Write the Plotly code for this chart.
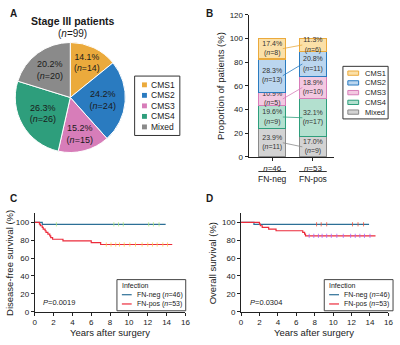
import plotly.graph_objects as go

W, H = 400, 345
def px(x): return x / W
def py(y): return 1 - y / H

FONT = "Liberation Sans, Arial, sans-serif"
TXT = "#1a1a1a"

# ---------------- data ----------------
cms_labels = ["CMS1", "CMS2", "CMS3", "CMS4", "Mixed"]
pie_counts = [14, 24, 15, 26, 20]
pie_pct = [14.1, 24.2, 15.2, 26.3, 20.2]
total_n = 99

solid_colors = ["#EBAA3C", "#2A7BC0", "#D77DB9", "#2E9E7C", "#8A8A8A"]
light_colors = ["#FBE0A8", "#BBD6EF", "#F3C9E1", "#B3E0CF", "#D3D3D3"]

groups = ["FN-neg", "FN-pos"]
group_n = [46, 53]
bar_pct_cms1 = [17.4, 11.3]
bar_pct_cms2 = [28.3, 20.8]
bar_pct_cms3 = [10.9, 18.9]
bar_pct_cms4 = [19.6, 32.1]
bar_pct_mixed = [23.9, 17.0]
bar_n_cms1 = [8, 6]
bar_n_cms2 = [13, 11]
bar_n_cms3 = [5, 10]
bar_n_cms4 = [9, 17]
bar_n_mixed = [11, 9]

dfs_neg_t = [0, 0.8, 13.9]
dfs_neg_s = [100, 97.8, 97.8]
dfs_pos_t = [0, 0.5, 0.6, 0.8, 0.9, 1.1, 1.2, 1.4, 1.6, 1.7, 1.9, 3.0, 6.0, 7.0, 14.6]
dfs_pos_s = [100, 98.1, 96.2, 94.3, 92.5, 90.6, 88.7, 86.8, 84.9, 83.0, 81.1, 79.2, 77.2, 75.2, 75.2]
dfs_neg_cens = [2.3, 8.4, 8.9, 9.4, 12.1, 12.6, 13.2]
dfs_pos_cens = [7.6, 8.1, 8.6, 9.0, 9.5, 10.1, 10.7, 11.4, 12.0, 12.5, 13.0, 13.6, 14.1]

os_neg_t = [0, 1.4, 13.9]
os_neg_s = [100, 97.8, 97.8]
os_pos_t = [0, 2.0, 2.1, 2.3, 3.0, 3.8, 6.7, 6.9, 7.0, 14.6]
os_pos_s = [100, 98.1, 96.2, 94.3, 92.5, 90.6, 88.7, 86.8, 84.9, 84.9]
os_neg_cens = [8.2, 8.7, 9.3, 12.1, 12.7, 13.3]
os_pos_cens = [7.4, 7.9, 8.4, 8.8, 9.3, 9.8, 10.4, 11.1, 11.9, 12.4, 12.9, 13.4, 14.0]

p_dfs = "0.0019"
p_os = "0.0304"
NEG_COLOR = "#2C6F96"
POS_COLOR = "#EC2B3B"

fig = go.Figure()

# ---------------- Panel A: pie ----------------
fig.add_trace(go.Pie(
    labels=cms_labels, values=pie_counts, customdata=pie_pct,
    sort=False, direction="clockwise", rotation=0,
    marker=dict(colors=solid_colors, line=dict(color="white", width=1)),
    texttemplate="%{customdata:.1f}%<br>(<i>n</i>=%{value})",
    textposition="inside", insidetextorientation="horizontal",
    textfont=dict(size=9, color=TXT, family=FONT),
    insidetextfont=dict(size=9, color=TXT, family=FONT),
    domain=dict(x=[px(13), px(126)], y=[py(152.5), py(39.5)]),
    showlegend=False, hoverinfo="label+value",
))

# ---------------- Panel B: stacked bars ----------------
stack = [("Mixed", bar_pct_mixed, bar_n_mixed, 4),
         ("CMS4", bar_pct_cms4, bar_n_cms4, 3),
         ("CMS3", bar_pct_cms3, bar_n_cms3, 2),
         ("CMS2", bar_pct_cms2, bar_n_cms2, 1),
         ("CMS1", bar_pct_cms1, bar_n_cms1, 0)]
xpos = list(range(len(groups)))
cum = [0.0] * len(groups)
mids = {}
for name, pct, ns, ci in stack:
    fig.add_trace(go.Bar(
        x=xpos, y=pct, name=name, width=0.67,
        marker=dict(color=light_colors[ci], line=dict(color=solid_colors[ci], width=1.2)),
        text=[f"{p:.1f}%<br>(<i>n</i>={n})" for p, n in zip(pct, ns)],
        textposition="inside", insidetextanchor="middle", constraintext="none",
        textangle=0, textfont=dict(size=7, color="#333333", family=FONT),
        xaxis="x2", yaxis="y2", showlegend=False,
    ))
    mids[name] = [c + p / 2 for c, p in zip(cum, pct)]
    cum = [c + p for c, p in zip(cum, pct)]

shapes = []
for name, pct, ns, ci in stack:
    m = mids[name]
    shapes.append(dict(type="line", xref="x2", yref="y2", x0=0.26, x1=0.74,
                       y0=m[0], y1=m[1], line=dict(color=solid_colors[ci], width=0.8)))
for i, g in enumerate(groups):
    shapes.append(dict(type="line", xref="x2", yref="paper", x0=i - 0.34, x1=i + 0.34,
                       y0=py(172), y1=py(172), line=dict(color="#333", width=1)))

# ---------------- Panels C & D: KM ----------------
def step_at(ts, ss, t):
    v = ss[0]
    for tt, s in zip(ts, ss):
        if tt <= t:
            v = s
    return v

def km(ts, ss, cens, color, xa, ya):
    fig.add_trace(go.Scatter(x=ts, y=ss, mode="lines", line=dict(color=color, width=1.2, shape="hv"),
                             xaxis=xa, yaxis=ya, showlegend=False))
    fig.add_trace(go.Scatter(x=cens, y=[step_at(ts, ss, c) for c in cens], mode="markers",
                             marker=dict(symbol="line-ns-open", size=3, line=dict(color=color, width=0.8)),
                             xaxis=xa, yaxis=ya, showlegend=False))

km(dfs_neg_t, dfs_neg_s, dfs_neg_cens, NEG_COLOR, "x3", "y3")
km(dfs_pos_t, dfs_pos_s, dfs_pos_cens, POS_COLOR, "x3", "y3")
km(os_neg_t, os_neg_s, os_neg_cens, NEG_COLOR, "x4", "y4")
km(os_pos_t, os_pos_s, os_pos_cens, POS_COLOR, "x4", "y4")

# ---------------- layout / axes ----------------
ax = dict(showline=True, linecolor="#222", linewidth=1, ticks="outside", ticklen=3, tickwidth=1,
          tickcolor="#222", showgrid=False, zeroline=False,
          tickfont=dict(size=8, color=TXT, family=FONT))

layout = dict(
    width=W, height=H, margin=dict(l=0, r=0, t=0, b=0),
    paper_bgcolor="white", plot_bgcolor="white", barmode="stack",
    font=dict(family=FONT, color=TXT),
    xaxis2=dict(ax, domain=[px(251), px(338)], range=[-0.58, 1.52], anchor="y2",
                tickvals=xpos, ticktext=[f"<i>n</i>={n}" for n in group_n]),
    yaxis2=dict(ax, domain=[py(157), py(11)], range=[0, 120], anchor="x2",
                tickvals=[0, 20, 40, 60, 80, 100, 120]),
    xaxis3=dict(ax, domain=[px(33.3), px(186.7)], range=[0, 16], anchor="y3",
                tickvals=list(range(0, 17, 2))),
    yaxis3=dict(ax, domain=[py(316), py(215)], range=[0, 110], anchor="x3",
                tickvals=[0, 20, 40, 60, 80, 100]),
    xaxis4=dict(ax, domain=[px(243.3), px(393.3)], range=[0, 16], anchor="y4",
                tickvals=list(range(0, 17, 2))),
    yaxis4=dict(ax, domain=[py(316), py(215)], range=[0, 110], anchor="x4",
                tickvals=[0, 20, 40, 60, 80, 100]),
)

ann = []
def txt(x, y, s, size=8, bold=False, anchor="center", angle=0, color=TXT):
    ann.append(dict(x=px(x), y=py(y), xref="paper", yref="paper", text=(f"<b>{s}</b>" if bold else s),
                    showarrow=False, xanchor=anchor, yanchor="middle", textangle=angle,
                    font=dict(size=size, color=color, family=FONT)))

# panel letters
txt(6, 10, "A", 10, True, "left")
txt(206, 10, "B", 10, True, "left")
txt(6, 200, "C", 10, True, "left")
txt(206, 200, "D", 10, True, "left")

# A titles
txt(72, 17, "Stage III patients", 10.5, True)
txt(72, 30, f"(<i>n</i>={total_n})", 10)

# A legend (manual)
shapes.append(dict(type="rect", xref="paper", yref="paper", x0=px(135), x1=px(181), y0=py(135), y1=py(74),
                   line=dict(color="#333", width=1), fillcolor="white"))
for i, lab in enumerate(cms_labels):
    yy = 83 + i * 10.8
    shapes.append(dict(type="rect", xref="paper", yref="paper", x0=px(142.5), x1=px(147.5),
                       y0=py(yy + 2.5), y1=py(yy - 2.5), line=dict(width=0), fillcolor=solid_colors[i]))
    txt(150, yy, lab, 8.5, anchor="left")

# B legend (manual)
shapes.append(dict(type="rect", xref="paper", yref="paper", x0=px(347), x1=px(393), y0=py(118), y1=py(64),
                   line=dict(color="#333", width=1), fillcolor="white"))
for i, lab in enumerate(cms_labels):
    yy = 71 + i * 10
    shapes.append(dict(type="rect", xref="paper", yref="paper", x0=px(352), x1=px(363),
                       y0=py(yy + 2.2), y1=py(yy - 2.2), line=dict(color=solid_colors[i], width=1),
                       fillcolor=light_colors[i]))
    txt(367, yy, lab, 7.5, anchor="left")

# B axis labels
txt(223, 84, "Proportion of patients (%)", 9.5, angle=-90)
for i, g in enumerate(groups):
    ann.append(dict(x=i, y=py(180), xref="x2", yref="paper", text=g, showarrow=False,
                    xanchor="center", yanchor="middle", font=dict(size=8.5, color=TXT, family=FONT)))

# C / D labels
txt(7, 266, "Disease-free survival (%)", 9.5, angle=-90)
txt(214, 266, "Overall survival (%)", 9.5, angle=-90)
txt(110, 337, "Years after surgery", 9.5)
txt(318, 337, "Years after surgery", 9.5)
txt(40, 307, f"<i>P</i>={p_dfs}", 7.5, anchor="left")
txt(250, 307, f"<i>P</i>={p_os}", 7.5, anchor="left")

# KM legends (manual)
for dx in (0, 211):
    shapes.append(dict(type="rect", xref="paper", yref="paper", x0=px(117 + dx), x1=px(187 + dx),
                       y0=py(315), y1=py(283), line=dict(color="#444", width=1), fillcolor="white"))
    txt(120 + dx, 289, "Infection", 7, anchor="left")
    for yy, col, g, n in ((298.5, NEG_COLOR, groups[0], group_n[0]), (308, POS_COLOR, groups[1], group_n[1])):
        shapes.append(dict(type="line", xref="paper", yref="paper", x0=px(122 + dx), x1=px(132 + dx),
                           y0=py(yy), y1=py(yy), line=dict(color=col, width=1.2)))
        txt(135 + dx, yy, f"{g} (<i>n</i>={n})", 7, anchor="left")

layout["shapes"] = shapes
layout["annotations"] = ann
fig.update_layout(**layout)
fig.write_html("out.html", config={"displayModeBar": False},
               post_script="document.body.style.margin='0';document.body.style.overflow='hidden';")
